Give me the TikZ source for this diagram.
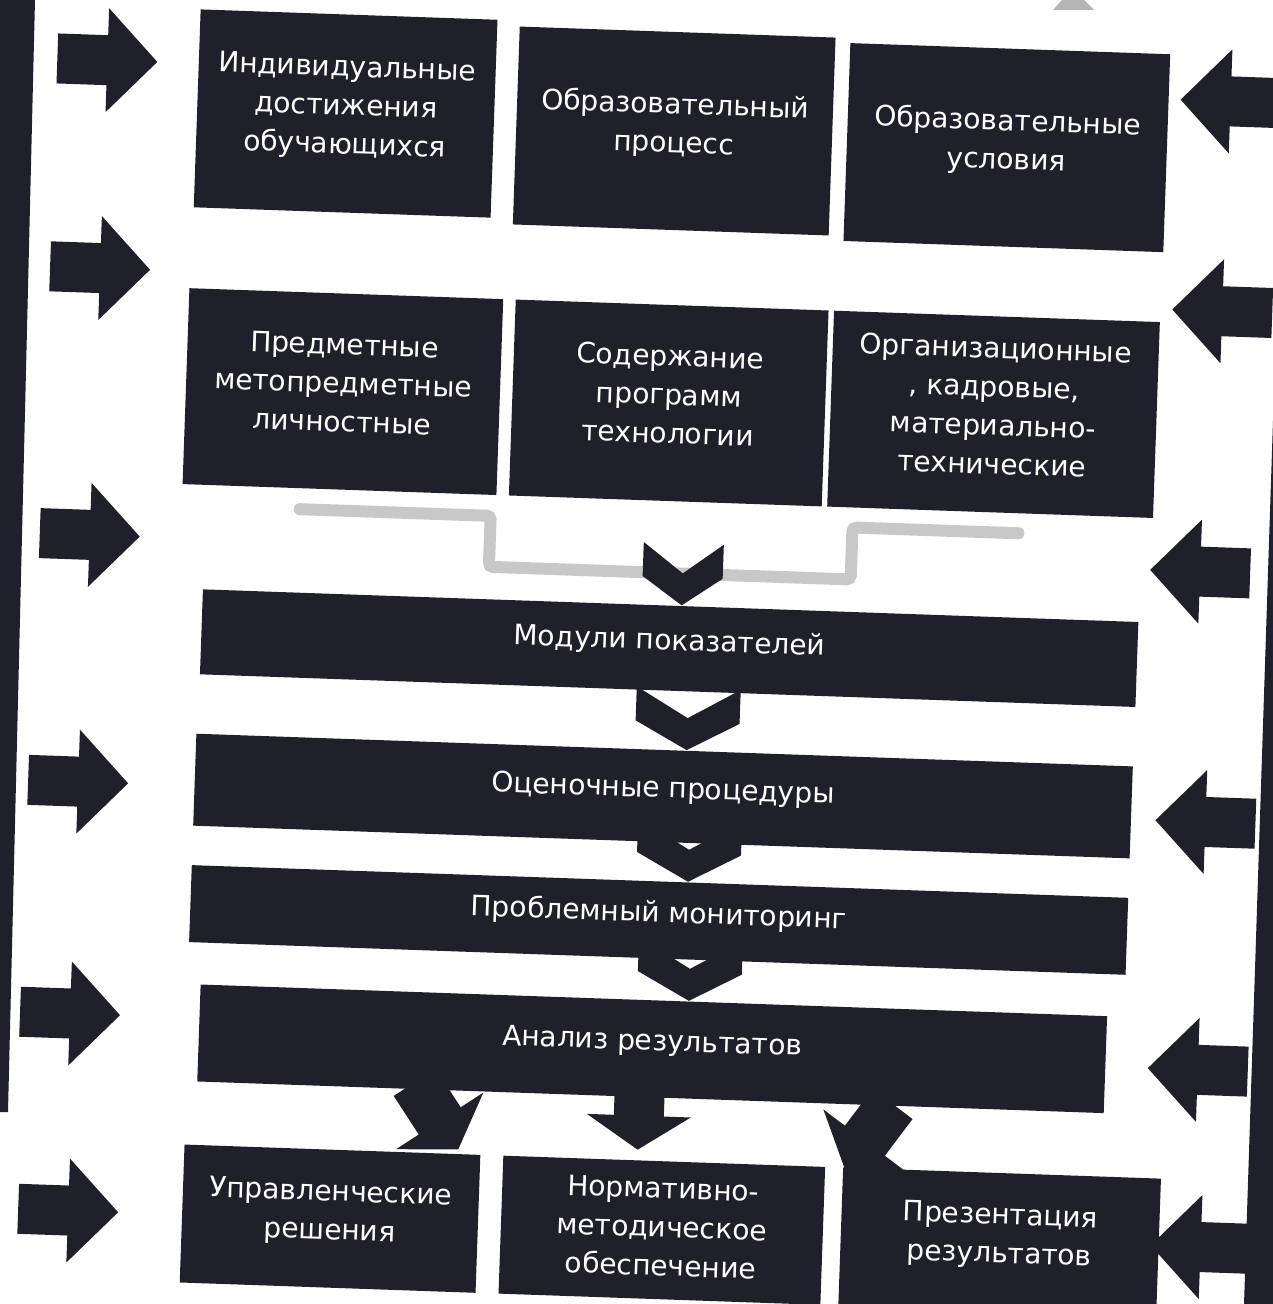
\documentclass[tikz,border=0pt]{standalone}
\usepackage{fontspec}
\setmainfont{DejaVu Sans}
\usetikzlibrary{calc}
\definecolor{ink}{RGB}{32,32,42}
\definecolor{pale}{RGB}{200,200,200}
\pgfdeclarelayer{back}
\pgfsetlayers{back,main}

\begin{document}
\begin{tikzpicture}[x=0.1mm, y=-0.1mm,
    box/.style = {fill=ink, text=white, align=center, inner sep=0pt, text depth=5pt,
                  font=\fontsize{8}{11}\selectfont},
    rarr/.pic = {\fill[ink] (0,0) -- (-50,-52) -- (-50,-25) -- (-100,-25) -- (-100,25) -- (-50,25) -- (-50,52) -- cycle;},
    larr/.pic = {\fill[ink] (0,0) -- (50,-52) -- (50,-25) -- (100,-25) -- (100,25) -- (50,25) -- (50,52) -- cycle;},
    darr/.pic = {\fill[ink] (0,0) -- (-34,-52) -- (-34,-25) -- (-80,-25) -- (-80,25) -- (-34,25) -- (-34,52) -- cycle;},
    chev/.pic = {\fill[ink] (0,0) -- (-52,-28) -- (-52,-62) -- (0,-32) -- (52,-62) -- (52,-28) -- cycle;}]
\useasboundingbox (0,0) rectangle (1273,1304);
\begin{pgfonlayer}{back}
\fill[white] (0,0) rectangle (1273,1304);
% edges of the scanned sheet
\fill[ink] (0,0) -- (35,0) -- (8,1112) -- (0,1112) -- cycle;
\fill[ink] (1273,420) -- (1273,1304) -- (1244,1304) -- cycle;
\fill[pale!90!black] (1062,0) -- (1084,0) -- (1094,10) -- (1053,10) -- cycle;
\end{pgfonlayer}

\begin{scope}[rotate around={-2:(636,652)}, transform shape]
    \node[box, minimum width=29.7mm, minimum height=19.8mm] (1) at (327,124) {Индивидуальные\\достижения\\обучающихся};
    \node[box, minimum width=31.6mm, minimum height=19.8mm] (2) at (656,130) {Образовательный\\процесс};
    \node[box, minimum width=32mm, minimum height=19.8mm] (3) at (989,135) {Образовательные\\условия};
    \node[box, minimum width=31.4mm, minimum height=19.6mm] (4) at (334,402) {Предметные\\метопредметные\\личностные};
    \node[box, minimum width=31.3mm, minimum height=19.6mm] (5) at (660,402) {Содержание\\программ\\технологии};
    \node[box, minimum width=32.6mm, minimum height=19.6mm] (6) at (985,402) {Организационные\\, кадровые,\\материально-\\технические};
    \node[box, minimum width=93.6mm, minimum height=8.5mm] (7) at (669,647) {Модули показателей};
    \node[box, minimum width=93.7mm, minimum height=9.2mm] (8) at (668,795) {Оценочные процедуры};
    \node[box, minimum width=93.7mm, minimum height=7.7mm] (9) at (668,919) {Проблемный мониторинг};
    \node[box, minimum width=90.7mm, minimum height=9.7mm] (10) at (666,1048) {Анализ результатов};
    \node[box, minimum width=29.6mm, minimum height=13.8mm] (11) at (350,1229) {Управленческие\\решения};
    \node[box, minimum width=32.2mm, minimum height=13.8mm, text depth=2pt] (12) at (682,1229) {Нормативно-\\методическое\\обеспечение};
    \node[box, minimum width=31.8mm, minimum height=13.8mm] (13) at (1020,1229) {Презентация\\результатов};

\begin{pgfonlayer}{back}
\draw[pale, line width=1.2mm, line cap=round, rounded corners=0.4mm] (295,521) -- (486,521) -- (486,572) -- (848,572) -- (848,520) -- (1014,520);
\pic at ($(8.north)+(22,0)$) {chev};
\pic at ($(9.north)+(28,0)$) {chev};
\pic at ($(10.north)+(35,0)$) {chev};
\pic[rotate=-55] at ($(11.north east)+(-23,-4)$) {darr};
\pic[rotate=-90] at ($(12.north)+(-27,-10)$) {darr};
\pic[rotate=-125] at ($(13.north west)+(2,1)$) {darr};
\end{pgfonlayer}
\pic[xscale=0.77] at ($(7.north)+(11,0)$) {chev};

% side arrows
\pic at (137,79) {rarr};
\pic at (137,287) {rarr};
\pic at (136,554) {rarr};
\pic at (133,801) {rarr};
\pic at (133,1033) {rarr};
\pic at (138,1230) {rarr};
\pic at (1161,81) {larr};
\pic at (1160,291) {larr};
\pic at (1147,552) {larr};
\pic at (1161,802) {larr};
\pic at (1162,1050) {larr};
\pic at (1171,1227) {larr};
\end{scope}
\end{tikzpicture}
\end{document}
